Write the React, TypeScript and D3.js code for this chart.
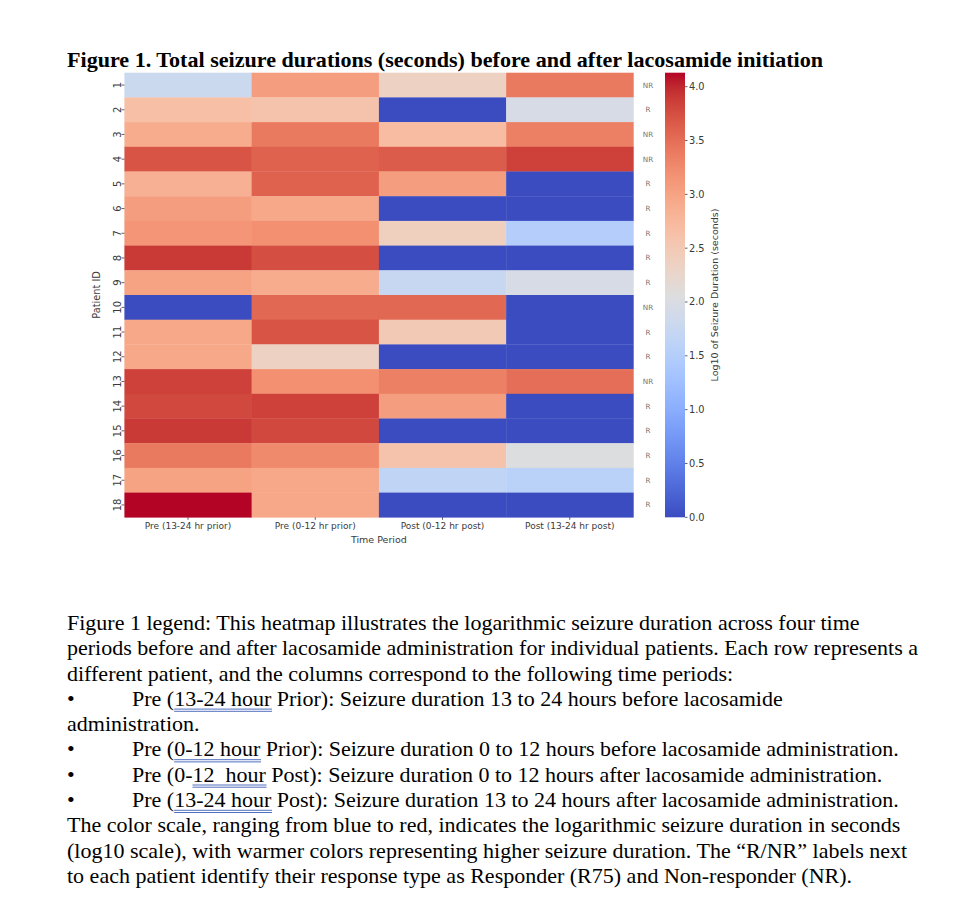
import React, { useEffect, useRef } from "react";
import * as d3 from "d3";

// ---------- data ----------
const timePeriods = ["Pre (13-24 hr prior)", "Pre (0-12 hr prior)", "Post (0-12 hr post)", "Post (13-24 hr post)"];
const patientIds = ["1", "2", "3", "4", "5", "6", "7", "8", "9", "10", "11", "12", "13", "14", "15", "16", "17", "18"];
const pre13to24 = [1.8, 2.65, 2.9, 3.7, 2.85, 3.05, 3.15, 3.9, 3.0, 0, 2.95, 2.95, 3.85, 3.8, 3.9, 3.4, 3.0, 4.13];
const pre0to12 = [3.05, 2.6, 3.4, 3.6, 3.6, 2.95, 3.2, 3.75, 2.9, 3.55, 3.7, 2.35, 3.2, 3.85, 3.8, 3.25, 2.95, 2.95];
const post0to12 = [2.35, 0, 2.7, 3.65, 3.05, 0, 2.4, 0, 1.75, 3.55, 2.5, 0, 3.35, 3.05, 0, 2.6, 1.65, 0];
const post13to24 = [3.4, 1.95, 3.35, 3.85, 0, 0, 1.5, 0, 1.95, 0, 0, 0, 3.5, 0, 0, 2.05, 1.58, 0];
const responseType = ["NR", "R", "NR", "NR", "R", "R", "R", "R", "R", "NR", "R", "R", "NR", "R", "R", "R", "R", "R"];
const colorbarTicks = [0, 0.5, 1, 1.5, 2, 2.5, 3, 3.5, 4];

const titleText = "Figure 1. Total seizure durations (seconds) before and after lacosamide initiation";
const xAxisTitle = "Time Period";
const yAxisTitle = "Patient ID";
const colorbarTitle = "Log10 of Seizure Duration (seconds)";

type Seg = { t: string; u?: boolean };
const legendLines: Seg[][] = [
  [{ t: "Figure 1 legend: This heatmap illustrates the logarithmic seizure duration across four time" }],
  [{ t: "periods before and after lacosamide administration for individual patients. Each row represents a" }],
  [{ t: "different patient, and the columns correspond to the following time periods:" }],
  [{ t: "Pre (" }, { t: "13-24 hour", u: true }, { t: " Prior): Seizure duration 13 to 24 hours before lacosamide" }],
  [{ t: "administration." }],
  [{ t: "Pre (" }, { t: "0-12 hour", u: true }, { t: " Prior): Seizure duration 0 to 12 hours before lacosamide administration." }],
  [{ t: "Pre (0-" }, { t: "12  hour", u: true }, { t: " Post): Seizure duration 0 to 12 hours after lacosamide administration." }],
  [{ t: "Pre (" }, { t: "13-24 hour", u: true }, { t: " Post): Seizure duration 13 to 24 hours after lacosamide administration." }],
  [{ t: "The color scale, ranging from blue to red, indicates the logarithmic seizure duration in seconds" }],
  [{ t: "(log10 scale), with warmer colors representing higher seizure duration. The \u201cR/NR\u201d labels next" }],
  [{ t: "to each patient identify their response type as Responder (R75) and Non-responder (NR)." }],
];
const legendBullets = [false, false, false, true, false, true, true, true, false, false, false];

// matplotlib "coolwarm" reference samples
const coolwarmSamples: [number, number, number][] = [
  [0.2298057, 0.298717966, 0.753683153], [0.26623388, 0.353094838, 0.801466763], [0.30386891, 0.406535296, 0.84495867],
  [0.342804478, 0.458757618, 0.883725899], [0.38301334, 0.50941904, 0.917387822], [0.424369608, 0.558148092, 0.945619588],
  [0.46666708, 0.604562568, 0.968154911], [0.509635204, 0.648280772, 0.98478814], [0.552953156, 0.688929332, 0.995375608],
  [0.596262162, 0.726149107, 0.999836203], [0.639176211, 0.759599947, 0.998151185], [0.681291281, 0.788964712, 0.990363227],
  [0.722193294, 0.813952739, 0.976574709], [0.761464949, 0.834302879, 0.956945269], [0.798691636, 0.849786142, 0.931688648],
  [0.833466556, 0.860207984, 0.901068838], [0.865395197, 0.86541021, 0.865395561], [0.897787179, 0.848937047, 0.820880546],
  [0.924127593, 0.827384882, 0.774508472], [0.944468518, 0.800927443, 0.726736126], [0.958852946, 0.769767752, 0.678007945],
  [0.96732803, 0.734132809, 0.628751763], [0.969954137, 0.694266682, 0.579375448], [0.966811177, 0.650421156, 0.530263762],
  [0.958003065, 0.602842431, 0.481775914], [0.943660866, 0.551750968, 0.434243684], [0.923944917, 0.49730856, 0.387970225],
  [0.89904617, 0.439559467, 0.343229596], [0.869186849, 0.378313092, 0.300267182], [0.834620542, 0.312874446, 0.259301199],
  [0.795631745, 0.24128379, 0.220525627], [0.752534934, 0.157246067, 0.184115123], [0.705673158, 0.01555616, 0.150232812],
];

export default function App() {
  const ref = useRef<SVGSVGElement | null>(null);

  useEffect(() => {
    const svg = d3.select(ref.current);
    svg.selectAll("*").remove();

    const W = 967, H = 910;
    svg.append("rect").attr("width", W).attr("height", H).attr("fill", "#ffffff");

    const series = [pre13to24, pre0to12, post0to12, post13to24];
    const all = series.flat();
    const vmin = d3.min(all) as number;
    const vmax = d3.max(all) as number;

    const cmStops = coolwarmSamples.map((c) => d3.rgb(c[0] * 255, c[1] * 255, c[2] * 255).formatHex());
    const cmap = d3.scaleLinear<string>()
      .domain(cmStops.map((_, i) => i / (cmStops.length - 1)))
      .range(cmStops)
      .interpolate(d3.interpolateRgb)
      .clamp(true);
    const norm = d3.scaleLinear().domain([vmin, vmax]).range([0, 1]);
    const color = (v: number) => cmap(norm(v));

    const left = 124.4, right = 633.4, top = 72.7, bottom = 517.3;
    const x = d3.scaleBand<string>().domain(timePeriods).range([left, right]);
    const y = d3.scaleBand<string>().domain(patientIds).range([top, bottom]);

    const sans = "'DejaVu Sans', sans-serif";
    const textCol = "#3a3a3a";

    // title
    const title = svg.append("text")
      .attr("x", 67).attr("y", 67)
      .attr("font-family", "'Liberation Serif', 'Times New Roman', serif")
      .attr("font-weight", "bold").attr("font-size", 21)
      .attr("fill", "#000")
      .text(titleText);
    const tl = (title.node() as SVGTextElement).getComputedTextLength();
    if (tl > 0) title.attr("textLength", 756).attr("lengthAdjust", "spacingAndGlyphs");

    // heatmap cells
    const cells = svg.append("g");
    series.forEach((vals, ci) => {
      cells.selectAll(null)
        .data(vals)
        .enter()
        .append("rect")
        .attr("x", x(timePeriods[ci]) as number)
        .attr("y", (_, i) => y(patientIds[i]) as number)
        .attr("width", x.bandwidth() + 0.3)
        .attr("height", y.bandwidth() + 0.3)
        .attr("fill", (d) => color(d));
    });

    // y axis
    const ya = svg.append("g");
    patientIds.forEach((id) => {
      const cy = (y(id) as number) + y.bandwidth() / 2;
      ya.append("line").attr("x1", 121.5).attr("x2", left).attr("y1", cy).attr("y2", cy)
        .attr("stroke", textCol).attr("stroke-width", 0.8);
      ya.append("text")
        .attr("transform", `translate(120.5,${cy}) rotate(-90)`)
        .attr("text-anchor", "middle")
        .attr("font-family", sans).attr("font-size", 10).attr("fill", textCol)
        .text(id);
    });
    svg.append("text")
      .attr("transform", `translate(100,${(top + bottom) / 2}) rotate(-90)`)
      .attr("text-anchor", "middle")
      .attr("font-family", sans).attr("font-size", 9.8).attr("fill", textCol)
      .text(yAxisTitle);

    // x axis
    const xa = svg.append("g");
    timePeriods.forEach((p) => {
      const cx = (x(p) as number) + x.bandwidth() / 2;
      xa.append("line").attr("x1", cx).attr("x2", cx).attr("y1", bottom).attr("y2", bottom + 2.5)
        .attr("stroke", textCol).attr("stroke-width", 0.8);
      xa.append("text")
        .attr("x", cx).attr("y", 528.5)
        .attr("text-anchor", "middle")
        .attr("font-family", sans).attr("font-size", 9).attr("fill", textCol)
        .text(p);
    });
    svg.append("text")
      .attr("x", (left + right) / 2).attr("y", 542.5)
      .attr("text-anchor", "middle")
      .attr("font-family", sans).attr("font-size", 9.5).attr("fill", textCol)
      .text(xAxisTitle);

    // response labels
    responseType.forEach((r, i) => {
      const cy = (y(patientIds[i]) as number) + y.bandwidth() / 2;
      svg.append("text")
        .attr("x", 648).attr("y", cy + 2.5)
        .attr("text-anchor", "middle")
        .attr("font-family", sans).attr("font-size", 7.2).attr("fill", "#707070")
        .text(r);
    });

    // colorbar
    const cbX = 665, cbW = 20;
    const defs = svg.append("defs");
    const grad = defs.append("linearGradient").attr("id", "cwgrad")
      .attr("x1", 0).attr("y1", 1).attr("x2", 0).attr("y2", 0);
    cmStops.forEach((c, i) => {
      grad.append("stop").attr("offset", i / (cmStops.length - 1)).attr("stop-color", c);
    });
    const cy = d3.scaleLinear().domain([vmin, vmax]).range([bottom, top]);
    svg.append("rect").attr("x", cbX).attr("y", top).attr("width", cbW).attr("height", bottom - top)
      .attr("fill", "url(#cwgrad)");
    colorbarTicks.forEach((t) => {
      const ty = cy(t);
      svg.append("line").attr("x1", cbX + cbW).attr("x2", cbX + cbW + 2.5).attr("y1", ty).attr("y2", ty)
        .attr("stroke", textCol).attr("stroke-width", 0.8);
      svg.append("text").attr("x", cbX + cbW + 4).attr("y", ty + 3.5)
        .attr("font-family", sans).attr("font-size", 9.8).attr("fill", textCol)
        .text(d3.format(".1f")(t));
    });
    svg.append("text")
      .attr("transform", `translate(718,${(top + bottom) / 2}) rotate(-90)`)
      .attr("text-anchor", "middle")
      .attr("font-family", sans).attr("font-size", 9.5).attr("fill", textCol)
      .text(colorbarTitle);

    // legend paragraph
    const bodyFont = "'Liberation Serif', 'Times New Roman', serif";
    const fs = 22;
    const g = svg.append("g");
    const probe = g.append("text").attr("font-family", bodyFont).attr("font-size", fs)
      .style("white-space", "pre").text(legendLines[1].map((s) => s.t).join(""));
    const natural = (probe.node() as SVGTextElement).getComputedTextLength() || 851;
    probe.remove();
    const sx = 851 / natural;
    g.attr("transform", `translate(67,0) scale(${sx},1)`);

    const lineGap = 25.3, firstBase = 630;
    legendLines.forEach((segs, li) => {
      const base = firstBase + li * lineGap;
      let xStart = 0;
      if (legendBullets[li]) {
        g.append("text").attr("x", 0).attr("y", base)
          .attr("font-family", bodyFont).attr("font-size", fs).attr("fill", "#000")
          .text("\u2022");
        xStart = 65 / sx;
      }
      const t = g.append("text").attr("x", xStart).attr("y", base)
        .attr("font-family", bodyFont).attr("font-size", fs).attr("fill", "#000")
        .style("white-space", "pre");
      const tsp: { node: SVGTSpanElement; u?: boolean }[] = [];
      segs.forEach((s) => {
        const ts = t.append("tspan").text(s.t);
        tsp.push({ node: ts.node() as SVGTSpanElement, u: s.u });
      });
      tsp.forEach(({ node, u }) => {
        if (!u) return;
        const bb = node.getBBox();
        [3.2, 5.4].forEach((off) => {
          g.append("line").attr("x1", bb.x).attr("x2", bb.x + bb.width)
            .attr("y1", base + off).attr("y2", base + off)
            .attr("stroke", "#3d5fb5").attr("stroke-width", 0.9);
        });
      });
    });
  }, []);

  return (
    <svg
      ref={ref}
      width={967}
      height={910}
      style={{ position: "absolute", left: 0, top: 0, display: "block" }}
    />
  );
}
